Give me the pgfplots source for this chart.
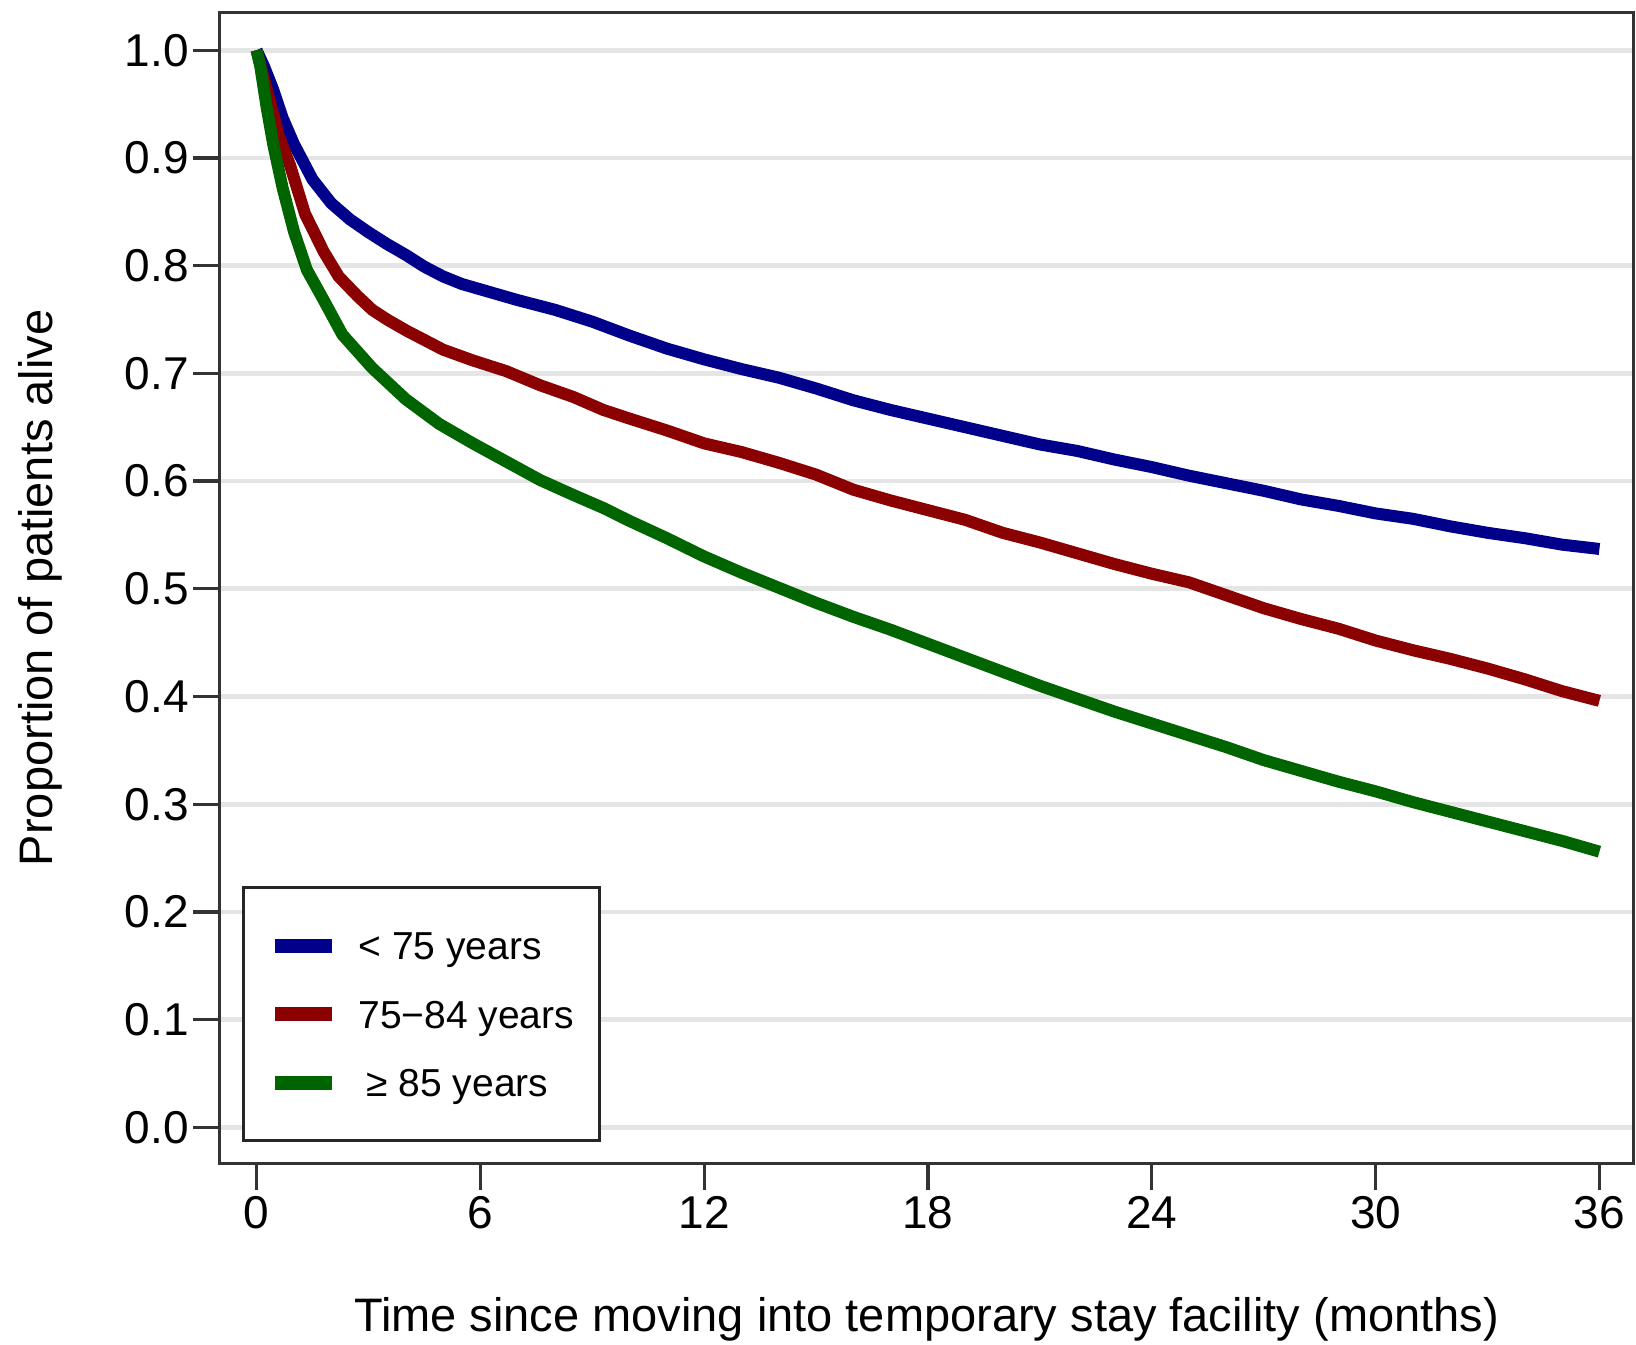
\documentclass[border=0pt]{standalone}
\usepackage{fontspec}
\setmainfont{Liberation Sans}
\usepackage{pgfplots}
\pgfplotsset{compat=1.18}
\definecolor{kmblue}{RGB}{0,0,139}
\definecolor{kmred}{RGB}{139,0,0}
\definecolor{kmgreen}{RGB}{0,100,0}
\begin{document}
\begin{tikzpicture}
\useasboundingbox (-110pt,-90.5pt) rectangle (708pt,581.5pt);
\begin{axis}[
  scale only axis, width=706.5pt, height=575.25pt,
  xmin=-0.98, xmax=36.9, ymin=-0.033, ymax=1.035,
  xtick={0,6,12,18,24,30,36},
  ytick={0,0.1,0.2,0.3,0.4,0.5,0.6,0.7,0.8,0.9,1.0},
  xtick pos=bottom, ytick pos=left,
  tick align=outside, major tick length=13.5pt,
  tick style={line width=1.6pt, draw=black!80},
  axis line style={line width=1.5pt, draw=black!80},
  ymajorgrids, major grid style={draw=black!10, line width=2.4pt},
  /pgf/number format/assume math mode=true,
  ticklabel style={font=\fontsize{23}{26}\selectfont},
  yticklabel style={/pgf/number format/.cd, fixed, fixed zerofill, precision=1, /tikz/.cd, inner sep=0pt, xshift=-2pt},
  xticklabel style={inner sep=0pt, yshift=-3pt},
  xlabel={Time since moving into temporary stay facility (months)},
  ylabel={Proportion of patients alive},
  label style={font=\fontsize{23.5}{26}\selectfont},
  xlabel style={at={(axis description cs:0.5,-0.1356)}, anchor=center},
  ylabel style={at={(axis description cs:-0.1274,0.5)}, anchor=center},
  legend style={at={(axis description cs:0.01557,0.01825)}, anchor=south west,
    draw=black!85, line width=1.5pt, inner xsep=12.5pt, inner ysep=18pt,
    row sep=12.25pt, font=\fontsize{19.5}{22}\selectfont,
    nodes={inner sep=0pt, text height=18pt, text depth=4pt}},
  legend cell align=left,
  legend image code/.code={\path[draw=none,fill=none] (0pt,0pt) -- (44pt,0pt); \draw[#1, line width=7pt] (2.5pt,0pt) -- (31pt,0pt);},
  every axis plot/.append style={line width=6pt, line join=round},
]
\addplot[kmblue] coordinates {
(0,1.000) (0.2,0.985) (0.45,0.963) (0.7,0.937) (1.0,0.913) (1.5,0.880) (2.0,0.858) (2.5,0.843) (3.0,0.831) (3.5,0.820) (4.0,0.810) (4.5,0.799) (5.0,0.790) (5.5,0.783) (6.0,0.778) (7.0,0.768) (8.0,0.759) (9.0,0.748) (10.0,0.735) (11.0,0.723) (12.0,0.713) (13.0,0.704) (14.0,0.696) (15.0,0.686) (16.0,0.675) (17.0,0.666) (18.0,0.658) (19.0,0.650) (20.0,0.642) (21.0,0.634) (22.0,0.628) (23.0,0.620) (24.0,0.613) (25.0,0.605) (26.0,0.598) (27.0,0.591) (28.0,0.583) (29.0,0.577) (30.0,0.570) (31.0,0.565) (32.0,0.558) (33.0,0.552) (34.0,0.547) (35.0,0.541) (36.0,0.537)
};
\addlegendentry{< 75 years}
\addplot[kmred] coordinates {
(0,1.000) (0.3,0.960) (0.6,0.920) (0.9,0.893) (1.3,0.848) (1.8,0.813) (2.2,0.790) (2.7,0.772) (3.1,0.759) (3.5,0.750) (4.0,0.740) (4.5,0.731) (5.0,0.722) (5.8,0.712) (6.7,0.702) (7.6,0.689) (8.5,0.678) (9.3,0.666) (10.0,0.658) (11.0,0.647) (12.0,0.635) (13.0,0.627) (14.0,0.617) (15.0,0.606) (16.0,0.592) (17.0,0.582) (18.0,0.573) (19.0,0.564) (20.0,0.552) (21.0,0.543) (22.0,0.533) (23.0,0.523) (24.0,0.514) (25.0,0.506) (26.0,0.494) (27.0,0.482) (28.0,0.472) (29.0,0.463) (30.0,0.452) (31.0,0.443) (32.0,0.435) (33.0,0.426) (34.0,0.416) (35.0,0.405) (36.0,0.396)
};
\addlegendentry{75−84 years}
\addplot[kmgreen] coordinates {
(0,1.000) (0.1,0.985) (0.27,0.947) (0.45,0.912) (0.7,0.872) (1.0,0.832) (1.35,0.796) (1.8,0.768) (2.3,0.736) (3.1,0.705) (4.0,0.676) (4.9,0.653) (5.8,0.635) (6.7,0.618) (7.6,0.601) (8.5,0.587) (9.3,0.575) (10.0,0.563) (11.0,0.547) (12.0,0.530) (13.0,0.515) (14.0,0.501) (15.0,0.487) (16.0,0.474) (17.0,0.462) (18.0,0.449) (19.0,0.436) (20.0,0.423) (21.0,0.410) (22.0,0.398) (23.0,0.386) (24.0,0.375) (25.0,0.364) (26.0,0.353) (27.0,0.341) (28.0,0.331) (29.0,0.321) (30.0,0.312) (31.0,0.302) (32.0,0.293) (33.0,0.284) (34.0,0.275) (35.0,0.266) (36.0,0.256)
};
\addlegendentry{\hspace{4pt}≥ 85 years}
\end{axis}
\end{tikzpicture}
\end{document}
